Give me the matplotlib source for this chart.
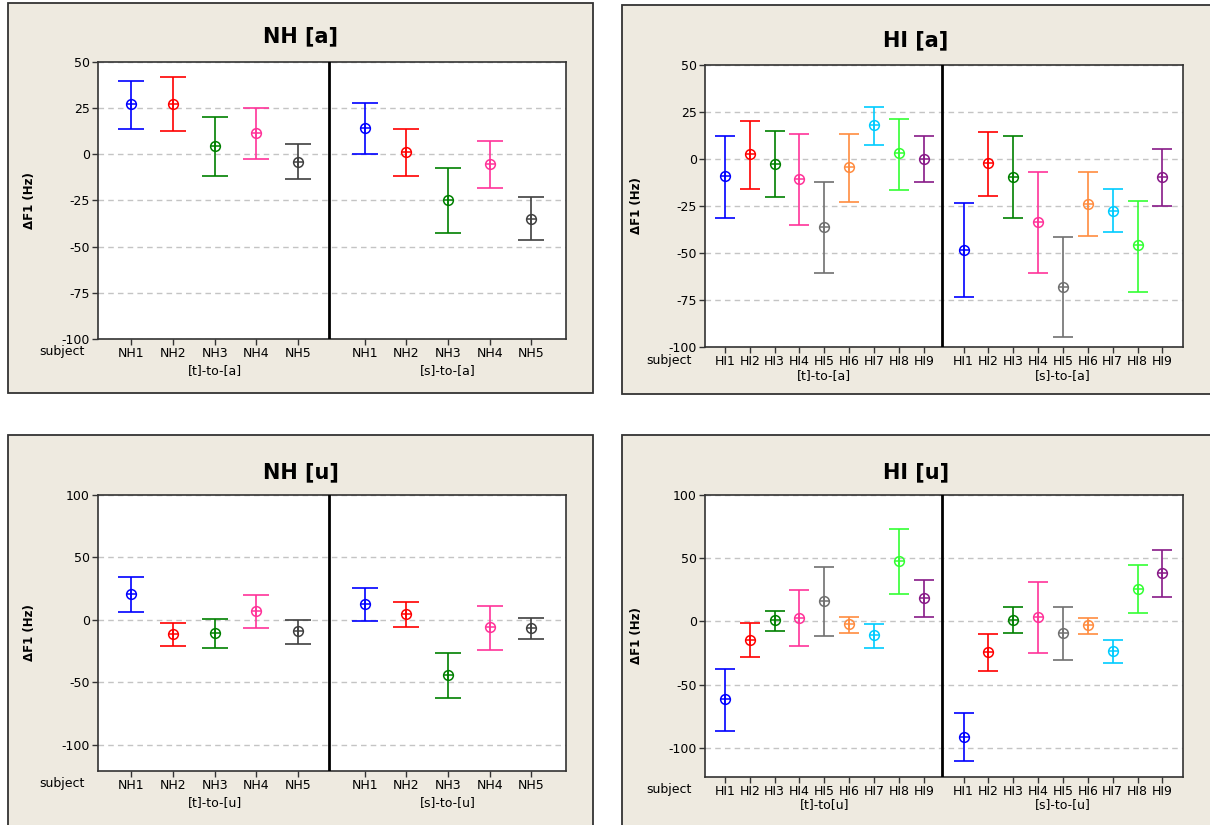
import numpy as np
import matplotlib
matplotlib.use('Agg')
import matplotlib.pyplot as plt
from matplotlib.patches import Rectangle

# subjects and colours
nh_subjects = ['NH1', 'NH2', 'NH3', 'NH4', 'NH5']
hi_subjects = ['HI1', 'HI2', 'HI3', 'HI4', 'HI5', 'HI6', 'HI7', 'HI8', 'HI9']
nh_colors = ['#0000ff', '#ff0000', '#008000', '#ff3399', '#404040']
hi_colors = ['#0000ff', '#ff0000', '#008000', '#ff3399', '#707070',
             '#ff8c40', '#00ccff', '#33ff33', '#881a88']

# NH [a]
nh_a_t_mean = [27, 27.5, 4.5, 11.5, -4]
nh_a_t_lo = [13.5, 12.5, -12, -2.5, -13.5]
nh_a_t_hi = [39.5, 42, 20, 25, 5.5]
nh_a_s_mean = [14.5, 1, -25, -5.5, -35]
nh_a_s_lo = [0, -11.5, -42.5, -18.5, -46.5]
nh_a_s_hi = [28, 13.5, -7.5, 7, -23]

# HI [a]
hi_a_t_mean = [-9, 2.5, -2.5, -10.5, -36, -4.5, 18, 3, 0]
hi_a_t_lo = [-31.5, -16, -20, -35, -60.5, -23, 7.5, -16.5, -12]
hi_a_t_hi = [12.5, 20, 15, 13.5, -12, 13.5, 27.5, 21.5, 12.5]
hi_a_s_mean = [-48.5, -2, -9.5, -33.5, -68, -24, -27.5, -45.5, -9.5]
hi_a_s_lo = [-73.5, -19.5, -31.5, -60.5, -94.5, -41, -39, -70.5, -25]
hi_a_s_hi = [-23.5, 14.5, 12, -7, -41.5, -7, -16, -22.5, 5.5]

# NH [u]
nh_u_t_mean = [20.5, -11, -10.5, 7.5, -9]
nh_u_t_lo = [6, -21, -22.5, -6.5, -19]
nh_u_t_hi = [34, -2.5, 0.5, 20, 0]
nh_u_s_mean = [13, 5, -44, -6, -6.5]
nh_u_s_lo = [-1, -5.5, -62.5, -24, -15]
nh_u_s_hi = [25.5, 14, -26.5, 11, 1.5]

# HI [u]
hi_u_t_mean = [-61.5, -14.5, 1, 2.5, 16.5, -2, -11, 47.5, 18.5]
hi_u_t_lo = [-86.5, -28.5, -7.5, -19.5, -11.5, -9, -21, 21.5, 3.5]
hi_u_t_hi = [-37.5, -1, 8.5, 24.5, 43, 3.5, -2, 73.5, 32.5]
hi_u_s_mean = [-91.5, -24.5, 1.5, 3.5, -9.5, -2.5, -23, 26, 38]
hi_u_s_lo = [-110.5, -39.5, -9, -25, -30.5, -10, -32.5, 7, 19]
hi_u_s_hi = [-72.5, -10, 11.5, 31, 11.5, 3, -14.5, 44.5, 56.5]

W, H = 1210, 825
fig = plt.figure(figsize=(W / 100, H / 100), dpi=100)
fig.patch.set_facecolor('white')


def fig_box(x0, y0, x1, y1):
    return [x0 / W, 1 - y1 / H, (x1 - x0) / W, (y1 - y0) / H]


def draw_panel(panel, axbox, title, title_y, subjects, colors, groups,
               group_names, ylim, yticks, capsize, lab_off, grp_off):
    px0, py0, px1, py1 = panel
    b = fig_box(px0, py0, px1, py1)
    fig.add_artist(Rectangle((b[0], b[1]), b[2], b[3], transform=fig.transFigure,
                             facecolor='#eeeae0', edgecolor='#333333', lw=1.3,
                             zorder=-5))
    fig.text(((px0 + min(px1, W)) / 2) / W, 1 - title_y / H, title,
             ha='center', va='center', fontsize=15, fontweight='bold')

    ax = fig.add_axes(fig_box(*axbox))
    ax.set_facecolor('white')
    n = len(subjects)
    xt = np.arange(1, n + 1)
    xs = xt + n + 0.6
    for xpos, (mean, lo, hi) in zip([xt, xs], groups):
        for i in range(n):
            c = colors[i]
            ax.errorbar(xpos[i], mean[i],
                        yerr=[[mean[i] - lo[i]], [hi[i] - mean[i]]],
                        fmt='none', ecolor=c, elinewidth=1.2, capsize=capsize,
                        capthick=1.2, zorder=3)
            ax.plot(xpos[i], mean[i], 'o', ms=7, mfc='none', mec=c, mew=1.1, zorder=4)
            ax.plot(xpos[i], mean[i], '+', ms=7, mec=c, mew=1.1, zorder=4)

    ax.axvline(n + 0.75, color='black', lw=2, zorder=5)
    ax.set_xlim(0.2, 2 * n + 0.6 + 0.83)
    ax.set_ylim(*ylim)
    ax.set_yticks(yticks)
    ax.set_yticklabels([str(v) for v in yticks])
    ax.set_xticks(np.concatenate([xt, xs]))
    ax.set_xticklabels(subjects + subjects)
    ax.grid(axis='y', color='#c4c4c4', ls=(0, (4, 3)), lw=1)
    ax.set_axisbelow(True)
    ax.tick_params(axis='both', direction='out', length=4, width=1,
                   color='#333333', labelsize=9, pad=2)
    for s in ax.spines.values():
        s.set_color('#333333')
        s.set_linewidth(1.2)

    pt = 72 / 100
    ax.annotate('subject', xy=(0, 0), xycoords='axes fraction',
                xytext=(-13 * pt, -lab_off * pt), textcoords='offset points',
                ha='right', va='center', fontsize=9)
    for xpos, name in zip([xt, xs], group_names):
        ax.annotate(name, xy=(xpos.mean(), 0), xycoords=('data', 'axes fraction'),
                    xytext=(0, -grp_off * pt), textcoords='offset points',
                    ha='center', va='center', fontsize=9)
    axw = axbox[2] - axbox[0]
    ax.set_ylabel('ΔF1 (Hz)', fontsize=8.5, fontweight='bold')
    ax.yaxis.set_label_coords(-62 / axw, 0.5)
    return ax


draw_panel((8, 3, 593, 393), (98, 62, 566, 339), 'NH [a]', 36,
           nh_subjects, nh_colors,
           [(nh_a_t_mean, nh_a_t_lo, nh_a_t_hi), (nh_a_s_mean, nh_a_s_lo, nh_a_s_hi)],
           ['[t]-to-[a]', '[s]-to-[a]'], (-100, 50), [-100, -75, -50, -25, 0, 25, 50],
           9.5, 13, 32)

draw_panel((622, 5, 1215, 394), (705, 65, 1183, 347), 'HI [a]', 40,
           hi_subjects, hi_colors,
           [(hi_a_t_mean, hi_a_t_lo, hi_a_t_hi), (hi_a_s_mean, hi_a_s_lo, hi_a_s_hi)],
           ['[t]-to-[a]', '[s]-to-[a]'], (-100, 50), [-100, -75, -50, -25, 0, 25, 50],
           7, 13, 29)

draw_panel((8, 435, 593, 830), (98, 495, 566, 771), 'NH [u]', 472,
           nh_subjects, nh_colors,
           [(nh_u_t_mean, nh_u_t_lo, nh_u_t_hi), (nh_u_s_mean, nh_u_s_lo, nh_u_s_hi)],
           ['[t]-to-[u]', '[s]-to-[u]'], (-121, 100), [-100, -50, 0, 50, 100],
           9.5, 13, 32)

draw_panel((622, 435, 1215, 830), (705, 495, 1183, 777), 'HI [u]', 472,
           hi_subjects, hi_colors,
           [(hi_u_t_mean, hi_u_t_lo, hi_u_t_hi), (hi_u_s_mean, hi_u_s_lo, hi_u_s_hi)],
           ['[t]-to[u]', '[s]-to-[u]'], (-123, 100), [-100, -50, 0, 50, 100],
           7, 13, 28)

fig.savefig('out.png', dpi=100, facecolor='white')
